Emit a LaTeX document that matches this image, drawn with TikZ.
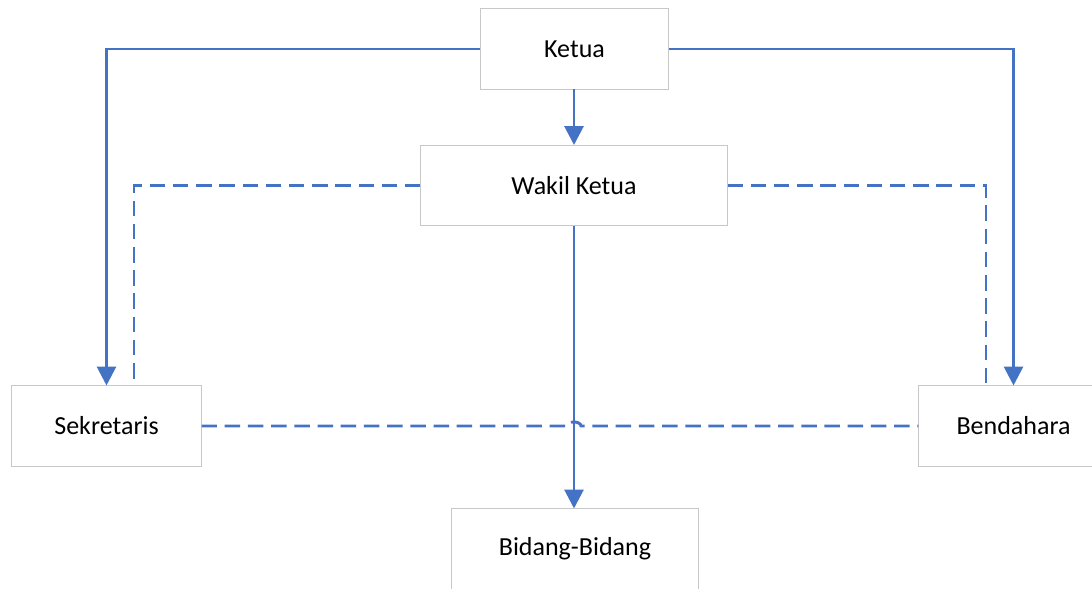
\documentclass[tikz,border=0pt]{standalone}
\usepackage{fontspec}
\setmainfont{Carlito}
\usetikzlibrary{arrows.meta}
\definecolor{linkblue}{HTML}{4472C4}
\definecolor{boxgray}{HTML}{C8C8C8}
\begin{document}
\begin{tikzpicture}[x=0.025cm,y=-0.025cm,
  jabatan/.style={draw=boxgray,line width=0.7pt,fill=white,minimum height=2cm,inner sep=0pt,font=\fontsize{18.5}{22}\selectfont},
  garis/.style={linkblue,line width=2.1pt},
  panah/.style={garis,-{Triangle[width=0.47cm,length=0.47cm]}},
  putus/.style={garis,dash pattern=on 11pt off 5.5pt}]
 \clip (0,0) rectangle (1092,589);
 \fill[white] (0,0) rectangle (1092,589);
 % kotak jabatan
 \node[jabatan,minimum width=4.675cm] (ketua) at (574.5,49) {Ketua};
 \node[jabatan,minimum width=7.65cm] (wakil) at (574,185.5) {Wakil Ketua};
 \node[jabatan,minimum width=4.725cm] (sekretaris) at (106.5,426) {Sekretaris};
 \node[jabatan,minimum width=4.725cm] (bendahara) at (1013.5,426) {Bendahara};
 \node[jabatan,minimum width=6.15cm] (bidang) at (575,549) {Bidang-Bidang};
 \coordinate (sekkoord) at (134,386);
 \coordinate (benkoord) at (986,386);
 % garis koordinasi
 \draw[putus] (wakil.west) -| (sekkoord);
 \draw[putus] (wakil.east) -| (benkoord);
 \draw[putus] (sekretaris.east) -- (567,426) arc[start angle=180,end angle=360,x radius=7,y radius=4] -- (bendahara.west);
 % garis komando
 \draw[panah] (ketua.west) -| (sekretaris.north);
 \draw[panah] (ketua.east) -| (bendahara.north);
 \draw[panah] (ketua.south -| wakil.north) -- (wakil.north);
 \draw[panah] (wakil.south) -- (wakil.south |- bidang.north);
\end{tikzpicture}
\end{document}
